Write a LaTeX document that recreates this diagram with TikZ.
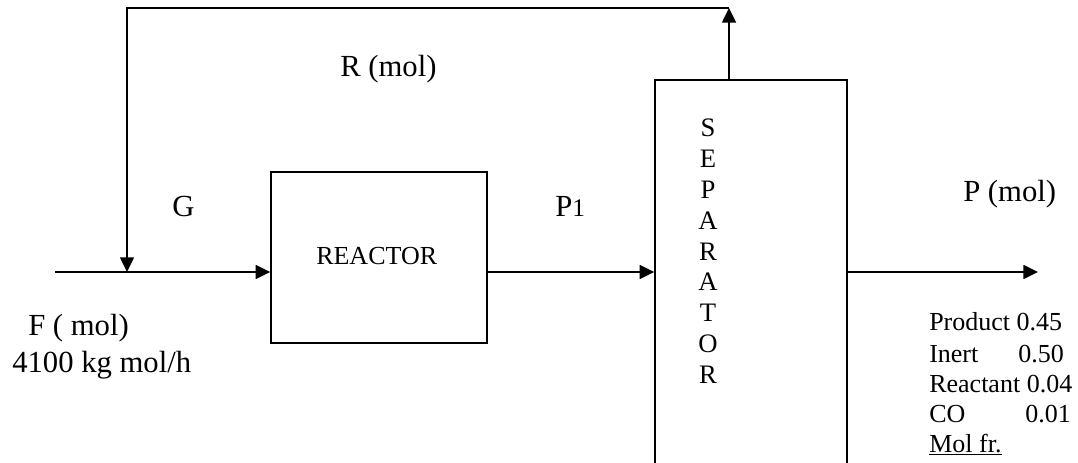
\documentclass[tikz,border=0pt]{standalone}
\usepackage{fontspec}
\setmainfont{Liberation Serif}
\usetikzlibrary{arrows.meta}
\begin{document}
\begin{tikzpicture}[x=0.75pt,y=-0.75pt,
  line/.style={line width=1.1pt},
  flow/.style={line, -{Triangle[length=11pt,width=10.5pt]}},
  unit/.style={draw, line width=1.1pt, inner sep=0pt},
  lbl/.style={inner sep=0pt, anchor=base west, font=\fontsize{23}{27}\selectfont},
  small/.style={inner sep=0pt, anchor=base west, font=\fontsize{19.5}{22.5}\selectfont}]
\useasboundingbox (0,0) rectangle (1078,463);
\clip (0,0) rectangle (1078,463);
% units
\node[unit, minimum width=162pt, minimum height=128.25pt] (reactor) at (379,257.5) {};
\node[unit, minimum width=144pt, minimum height=300pt] (separator) at (751,280) {};
\node[small] (reactorlbl) at (316,265) {REACTOR};
\node[inner sep=0pt, anchor=north, align=center, font=\fontsize{20}{23.1}\selectfont] (seplbl) at (708,119) {S\\E\\P\\A\\R\\A\\T\\O\\R};
% coordinates
\coordinate (fin) at (55,272);
\coordinate (mix) at (127,272);
\coordinate (rin) at (271,272);
\coordinate (rout) at (487,272);
\coordinate (top) at (729,8);
\coordinate (corner) at (127,8);
\coordinate (pout) at (1038,272);
% connectors
\draw[flow] (fin) -- (fin -| reactor.west);
\draw[flow] (rout -| reactor.east) -- (rout -| separator.west);
\draw[flow] (rout -| separator.east) -- (pout);
\draw[flow] (top |- separator.north) -- (top);
\draw[flow] (top) -- (corner) -- (mix);
% labels
\node[lbl] (rlbl) at (340,77) {R (mol)};
\node[lbl] (glbl) at (172,217) {G};
\node[lbl] (p1lbl) at (555,217) {P{\fontsize{19}{22}\selectfont 1}};
\node[lbl] (plbl) at (963,202) {P (mol)};
\node[lbl] (flbl) at (28,335) {F ( mol)};
\node[lbl] (frate) at (12,372) {4100 kg mol/h};
% composition
\node[small] (c1) at (929,330) {Product 0.45};
\node[small] (c2) at (929,362) {\makebox[66.75pt][l]{Inert}0.50};
\node[small] (c3) at (929,392) {Reactant 0.04};
\node[small] (c4) at (929,422) {\makebox[72pt][l]{CO}0.01};
\node[small] (c5) at (929,452) {\underline{Mol fr.}};
\end{tikzpicture}
\end{document}
